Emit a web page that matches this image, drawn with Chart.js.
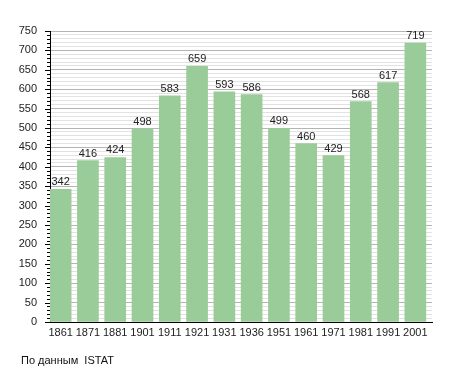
<!DOCTYPE html>
<html>
<head>
<meta charset="utf-8">
<script src="https://cdn.jsdelivr.net/npm/chart.js@4.4.0/dist/chart.umd.min.js"></script>
<style>
    html, body { margin: 0; padding: 0; background: #fff; }
    #wrap { width: 455px; height: 373px; }
</style>
</head>
<body>
<div id="wrap"><canvas id="popChart" width="455" height="373"></canvas></div>
<script>
const anni = ['1861', '1871', '1881', '1901', '1911', '1921', '1931', '1936', '1951', '1961', '1971', '1981', '1991', '2001'];
const abitanti = [342, 416, 424, 498, 583, 659, 593, 586, 499, 460, 429, 568, 617, 719];
const yMax = 750;
const yMajor = 50;
const yMinor = 10;
const fonte = 'По данным  ISTAT';

const FONT = '"Liberation Sans", Arial, sans-serif';

// etichette dei valori sopra le barre + tacche dell'asse y + nota in basso
const etichette = {
    id: 'etichette',
    afterDatasetsDraw(chart) {
        const { ctx } = chart;
        const meta = chart.getDatasetMeta(0);
        ctx.save();
        ctx.font = '11px ' + FONT;
        ctx.fillStyle = '#222';
        ctx.textAlign = 'center';
        ctx.textBaseline = 'alphabetic';
        meta.data.forEach((bar, i) => {
            ctx.fillText(String(abitanti[i]), bar.x, bar.y - 4);
        });

        // tacche: lunghe ogni 50, corte ogni 10
        const y = chart.scales.y;
        const x0 = chart.chartArea.left;
        ctx.strokeStyle = '#000';
        ctx.lineWidth = 1;
        for (let v = 0; v <= yMax; v += yMinor) {
            const py = Math.round(y.getPixelForValue(v)) + 0.5;
            const len = v % yMajor === 0 ? 5 : 3;
            ctx.beginPath();
            ctx.moveTo(x0 - len, py);
            ctx.lineTo(x0, py);
            ctx.stroke();
        }

        ctx.textAlign = 'left';
        ctx.textBaseline = 'middle';
        ctx.fillStyle = '#111';
        ctx.fillText(fonte, 21, 361);
        ctx.restore();
    }
};

const ctx = document.getElementById('popChart').getContext('2d');
const popChart = new Chart(ctx, {
    type: 'bar',
    data: {
        datasets: [{
            data: abitanti.map((v, i) => ({ x: i, y: v })),
            backgroundColor: '#99cc99',
            borderWidth: 0,
            barThickness: 21
        }]
    },
    options: {
        responsive: false,
        animation: false,
        layout: { padding: { top: 31, right: 23, left: 0, bottom: 0 } },
        plugins: {
            legend: { display: false },
            tooltip: { enabled: false }
        },
        scales: {
            x: {
                type: 'linear',
                offset: false,
                min: -0.39,
                max: 13.61,
                afterFit: s => { s.height = 51; },
                afterBuildTicks: s => { s.ticks = anni.map((_, i) => ({ value: i })); },
                grid: { display: false, drawTicks: false, tickLength: 0 },
                border: { color: '#000', width: 1 },
                ticks: {
                    autoSkip: false,
                    maxRotation: 0,
                    padding: 4,
                    color: '#222',
                    font: { family: FONT, size: 11 },
                    callback: v => anni[Math.round(v)]
                }
            },
            y: {
                min: 0,
                max: yMax,
                afterFit: s => { s.width = 50; },
                border: { color: '#000', width: 1 },
                grid: {
                    color: c => c.tick.value % yMajor === 0 ? '#b4b4b4' : '#e2e2e2',
                    tickLength: 5,
                    tickColor: 'rgba(0,0,0,0)'
                },
                ticks: {
                    stepSize: yMinor,
                    autoSkip: false,
                    padding: 8,
                    color: '#222',
                    font: { family: FONT, size: 11 },
                    callback: v => v % yMajor === 0 ? String(v) : ''
                }
            }
        }
    },
    plugins: [etichette]
});
</script>
</body>
</html>
